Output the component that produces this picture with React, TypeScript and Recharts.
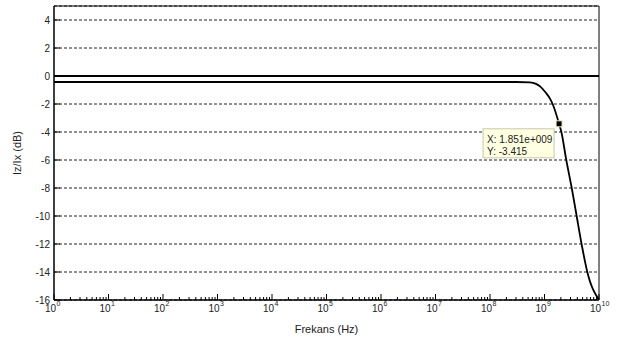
import { CartesianGrid, Line, LineChart, ReferenceArea, ReferenceDot, XAxis, YAxis } from 'recharts';

// frequency response Iz/Ix
const FREQ = [1, 1e8, 3e8, 5.4e8, 7e8, 8.3e8, 1.06e9, 1.26e9, 1.41e9, 1.851e9, 2.04e9, 2.51e9, 3.16e9, 3.89e9, 4.79e9, 6.1e9, 1e10];
const IZ_IX_DB = [-0.43, -0.43, -0.43, -0.45, -0.56, -0.74, -1.2, -1.62, -2.0, -3.415, -4.0, -6.0, -8.0, -10.0, -12.0, -14.0, -16.0];

// 0 dB reference line
const REF_FREQ = [1, 1e10];
const REF_DB = [0, 0];

// data tip
const TIP_FREQ = 1.851e9;
const TIP_DB = -3.415;
const TIP_LINES = ['X: 1.851e+009', 'Y: -3.415'];

const X_DOMAIN = [1, 1e10];
const Y_DOMAIN = [-16, 5];
const DECADES = [0, 1, 2, 3, 4, 5, 6, 7, 8, 9, 10];
const MINOR_MULT = [2, 3, 4, 5, 6, 7, 8, 9];
const Y_TICKS = [-16, -14, -12, -10, -8, -6, -4, -2, 0, 2, 4];

const X_TICKS = DECADES.flatMap((d) =>
  d < 10 ? [10 ** d, ...MINOR_MULT.map((m) => m * 10 ** d)] : [10 ** d],
);

const curve = FREQ.map((f, i) => ({ f, db: IZ_IX_DB[i] }));
const ref = REF_FREQ.map((f, i) => ({ f, db: REF_DB[i] }));

const FONT = '"Liberation Sans", Arial, sans-serif';
const INK = '#222';

function isMajor(v: number) {
  const e = Math.log10(v);
  return Math.abs(e - Math.round(e)) < 1e-9;
}

function BottomTick({ x, y, payload }: any) {
  const v = payload.value as number;
  const major = isMajor(v);
  return (
    <g>
      <line x1={x} x2={x} y1={y} y2={y - (major ? 6 : 3)} stroke="#000" />
      {major ? (
        <g fontFamily={FONT} fill={INK}>
          <text x={x + 2} y={y + 12} fontSize={10} textAnchor="end">
            10
          </text>
          <text x={x + 2.5} y={y + 6} fontSize={7} textAnchor="start">
            {Math.round(Math.log10(v))}
          </text>
        </g>
      ) : null}
    </g>
  );
}

function TopTick({ x, y, payload }: any) {
  const major = isMajor(payload.value);
  return <line x1={x} x2={x} y1={y} y2={y + (major ? 6 : 3)} stroke="#000" />;
}

function LeftTick({ x, y, payload }: any) {
  return (
    <g>
      <line x1={x} x2={x + 6} y1={y} y2={y} stroke="#000" />
      <text x={x - 4} y={y + 3.5} fontSize={10} fontFamily={FONT} fill={INK} textAnchor="end">
        {payload.value}
      </text>
    </g>
  );
}

function RightTick({ x, y }: any) {
  return <line x1={x} x2={x - 6} y1={y} y2={y} stroke="#000" />;
}

function DataTip({ cx, cy }: any) {
  return (
    <g>
      <rect x={cx - 76} y={cy + 5} width={71} height={29} fill="#ffffe1" stroke="#c9c7ad" />
      {TIP_LINES.map((t, i) => (
        <text key={t} x={cx - 72} y={cy + 19.5 + i * 11.3} fontSize={10} fontFamily={FONT} fill={INK}>
          {t}
        </text>
      ))}
      <rect x={cx - 3} y={cy - 3} width={6} height={6} fill="#000" stroke="#f3efc4" strokeWidth={1} />
    </g>
  );
}

export default function App() {
  return (
    <div style={{ position: 'absolute', left: 0, top: 0, width: 620, height: 341, background: '#fff' }}>
      <LineChart width={620} height={341} margin={{ top: 6, right: 21, bottom: 0, left: 0 }}>
        <CartesianGrid vertical={false} stroke="#222" strokeDasharray="3 2" />
        <XAxis
          dataKey="f"
          type="number"
          scale="log"
          domain={X_DOMAIN}
          ticks={X_TICKS}
          interval={0}
          allowDataOverflow
          height={41}
          axisLine={{ stroke: '#000' }}
          tickLine={false}
          tickSize={0}
          tickMargin={0}
          tick={<BottomTick />}
          label={{
            content: ({ viewBox }: any) => (
              <text
                x={viewBox.x + viewBox.width / 2}
                y={viewBox.y + 33}
                fontSize={11}
                fontFamily={FONT}
                fill={INK}
                textAnchor="middle"
              >
                Frekans (Hz)
              </text>
            ),
          }}
        />
        <XAxis
          xAxisId="top"
          orientation="top"
          dataKey="f"
          type="number"
          scale="log"
          domain={X_DOMAIN}
          ticks={X_TICKS}
          interval={0}
          allowDataOverflow
          height={0}
          axisLine={false}
          tickLine={false}
          tickSize={0}
          tickMargin={0}
          tick={<TopTick />}
        />
        <YAxis
          type="number"
          domain={Y_DOMAIN}
          ticks={Y_TICKS}
          interval={0}
          allowDataOverflow
          width={54}
          axisLine={{ stroke: '#000' }}
          tickLine={false}
          tickSize={0}
          tickMargin={0}
          tick={<LeftTick />}
          label={{
            content: ({ viewBox }: any) => {
              const cx = viewBox.x + 21;
              const cy = viewBox.y + viewBox.height / 2;
              return (
                <text
                  x={cx}
                  y={cy}
                  fontSize={11}
                  fontFamily={FONT}
                  fill={INK}
                  textAnchor="middle"
                  transform={`rotate(-90 ${cx} ${cy})`}
                >
                  Iz/Ix (dB)
                </text>
              );
            },
          }}
        />
        <YAxis
          yAxisId="right"
          orientation="right"
          type="number"
          domain={Y_DOMAIN}
          ticks={Y_TICKS}
          interval={0}
          allowDataOverflow
          width={0}
          axisLine={false}
          tickLine={false}
          tickSize={0}
          tickMargin={0}
          tick={<RightTick />}
        />
        <ReferenceArea x1={X_DOMAIN[0]} x2={X_DOMAIN[1]} y1={Y_DOMAIN[0]} y2={Y_DOMAIN[1]} fill="none" stroke="#000" />
        <Line
          data={ref}
          dataKey="db"
          type="linear"
          stroke="#000"
          strokeWidth={1.8}
          dot={false}
          isAnimationActive={false}
        />
        <Line
          data={curve}
          dataKey="db"
          type="monotone"
          stroke="#000"
          strokeWidth={1.8}
          dot={false}
          isAnimationActive={false}
        />
        <ReferenceDot x={TIP_FREQ} y={TIP_DB} r={3} shape={<DataTip />} />
      </LineChart>
    </div>
  );
}
